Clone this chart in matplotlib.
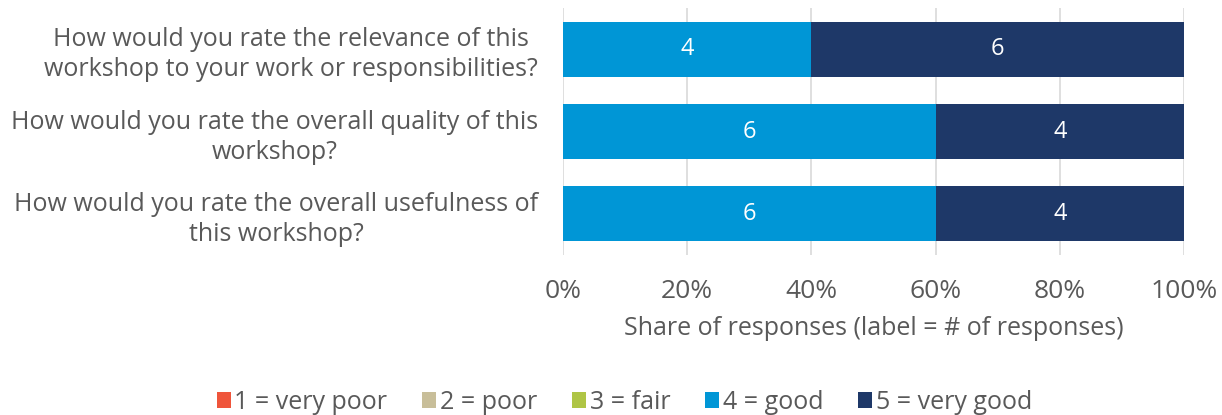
import matplotlib.pyplot as plt
import numpy as np
from matplotlib.patches import Patch

plt.rcParams['font.family'] = ['Open Sans', 'DejaVu Sans']

questions = [
    'How would you rate the relevance of this\nworkshop to your work or responsibilities?',
    'How would you rate the overall quality of this\nworkshop?',
    'How would you rate the overall usefulness of\nthis workshop?',
]
ratings = ['1 = very poor', '2 = poor', '3 = fair', '4 = good', '5 = very good']
counts = {
    '1 = very poor': [0, 0, 0],
    '2 = poor': [0, 0, 0],
    '3 = fair': [0, 0, 0],
    '4 = good': [4, 6, 6],
    '5 = very good': [6, 4, 4],
}
colors = ['#EF553B', '#C8BE99', '#AFC545', '#0096D6', '#1E3868']
tick_labels = ['0%', '20%', '40%', '60%', '80%', '100%']

text_color = '#595959'
fs = 18
fig = plt.figure(figsize=(12.22, 4.15), dpi=100)
ax = fig.add_axes([0.4607, 0.3855, 0.5082, 0.5952])

totals = np.sum([counts[r] for r in ratings], axis=0)
y = np.arange(len(questions))
left = np.zeros(len(questions))
for rating, color in zip(ratings, colors):
    vals = np.array(counts[rating], dtype=float)
    share = vals / totals
    ax.barh(y, share, left=left, height=0.667, color=color, zorder=3)
    for yi, s, l, v in zip(y, share, left, vals):
        if v > 0:
            ax.text(l + s / 2, yi, f'{int(v)}', ha='center', va='center',
                    color='white', fontsize=17, zorder=4)
    left += share

ax.set_ylim(len(questions) - 0.5, -0.5)
ax.set_xlim(0, 1)
ax.set_yticks(y)
ax.set_yticklabels(questions, fontsize=fs, color=text_color, ha='right',
                   linespacing=1.28, multialignment='center')
ax.set_xticks(np.linspace(0, 1, 6))
ax.set_xticklabels(tick_labels, fontsize=19, color=text_color)
ax.tick_params(axis='y', length=0, pad=18)
ax.tick_params(axis='x', length=0, pad=17)
ax.grid(axis='x', color='#D9D9D9', linewidth=1.2, zorder=0)
for sp in ax.spines.values():
    sp.set_visible(False)
ax.set_xlabel('Share of responses (label = # of responses)', fontsize=fs,
              color=text_color, labelpad=9)

handles = [Patch(facecolor=c, label=r) for r, c in zip(ratings, colors)]
fig.legend(handles=handles, loc='center', bbox_to_anchor=(0.511, 0.031),
           ncol=5, frameon=False, fontsize=fs, handlelength=0.55,
           handleheight=0.65, handletextpad=0.15, columnspacing=1.4,
           labelcolor=text_color)

fig.savefig('out.png', dpi=100)
